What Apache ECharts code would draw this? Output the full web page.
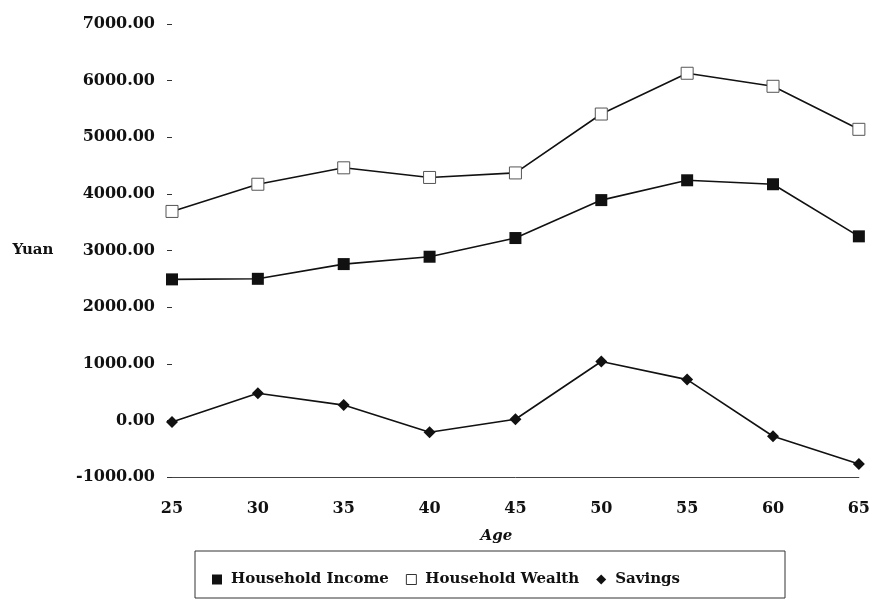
<!DOCTYPE html>
<html>
<head>
<meta charset="utf-8">
<script src="https://cdn.jsdelivr.net/npm/echarts@6/dist/echarts.min.js"></script>
<style>
  html, body { margin: 0; padding: 0; background: #fff; }
  #chart { width: 873px; height: 600px; }
</style>
</head>
<body>
<div id="chart"></div>
<script>
// Household income, wealth and savings by age of household head
const ages = ['25', '30', '35', '40', '45', '50', '55', '60', '65'];
const householdIncome = [2490, 2500, 2760, 2890, 3220, 3890, 4240, 4170, 3250];
const householdWealth = [3690, 4170, 4460, 4290, 4370, 5410, 6130, 5900, 5140];
const savings = [-30, 480, 270, -210, 20, 1040, 720, -280, -770];

const FONT = '"DejaVu Serif", "Liberation Serif", serif';
const INK = '#111';

const chart = echarts.init(document.getElementById('chart'), null, { renderer: 'canvas' });

const lineStyle = { color: INK, width: 1.6 };

chart.setOption({
  backgroundColor: '#fff',
  animation: false,
  grid: { left: 172, right: 13, top: 24, bottom: 123 },
  xAxis: {
    type: 'category',
    data: ages,
    boundaryGap: false,
    name: 'Age',
    nameLocation: 'middle',
    nameGap: 52,
    nameTextStyle: {
      color: INK, fontFamily: FONT, fontSize: 15, fontWeight: 'bold', fontStyle: 'italic',
      align: 'center', padding: [0, 38, 0, 0]
    },
    axisLine: { show: true, onZero: false, lineStyle: { color: '#444', width: 1 } },
    axisTick: { show: false },
    axisLabel: { color: INK, fontFamily: FONT, fontSize: 16, fontWeight: 'bold', margin: 24 },
    splitLine: { show: false }
  },
  yAxis: {
    type: 'value',
    min: -1000,
    max: 7000,
    interval: 1000,
    name: 'Yuan',
    nameLocation: 'middle',
    nameRotate: 0,
    nameGap: 139,
    nameTextStyle: {
      color: INK, fontFamily: FONT, fontSize: 15, fontWeight: 'bold',
      align: 'center', verticalAlign: 'middle'
    },
    axisLine: { show: false },
    axisTick: { show: true, length: 5, lineStyle: { color: '#333', width: 1 } },
    axisLabel: {
      color: INK, fontFamily: FONT, fontSize: 16, fontWeight: 'bold', margin: 17,
      formatter: v => v.toFixed(2)
    },
    splitLine: { show: false }
  },
  legend: {
    left: 207,
    top: 567,
    itemGap: 17,
    itemWidth: 10,
    itemHeight: 10,
    textStyle: { color: INK, fontFamily: FONT, fontSize: 15, fontWeight: 'bold', padding: [0, 0, 0, 4] },
    data: [
      { name: 'Household Income', icon: 'rect', itemStyle: { color: INK, borderWidth: 0 } },
      { name: 'Household Wealth', icon: 'rect', itemStyle: { color: '#fff', borderColor: '#333', borderWidth: 1 } },
      { name: 'Savings', icon: 'diamond', itemStyle: { color: INK, borderWidth: 0 } }
    ]
  },
  graphic: [{
    type: 'rect',
    shape: { x: 195, y: 551, width: 590, height: 47 },
    style: { fill: 'none', stroke: '#333', lineWidth: 1 },
    silent: true
  }],
  series: [
    {
      name: 'Household Income',
      type: 'line',
      data: householdIncome,
      symbol: 'rect',
      symbolSize: 12,
      lineStyle: lineStyle,
      itemStyle: { color: INK, borderWidth: 0 }
    },
    {
      name: 'Household Wealth',
      type: 'line',
      data: householdWealth,
      symbol: 'rect',
      symbolSize: 12,
      showAllSymbol: true,
      lineStyle: lineStyle,
      itemStyle: { color: '#fff', borderColor: '#555', borderWidth: 1 }
    },
    {
      name: 'Savings',
      type: 'line',
      data: savings,
      symbol: 'diamond',
      symbolSize: 12,
      lineStyle: lineStyle,
      itemStyle: { color: INK, borderWidth: 0 }
    }
  ]
});
</script>
</body>
</html>
